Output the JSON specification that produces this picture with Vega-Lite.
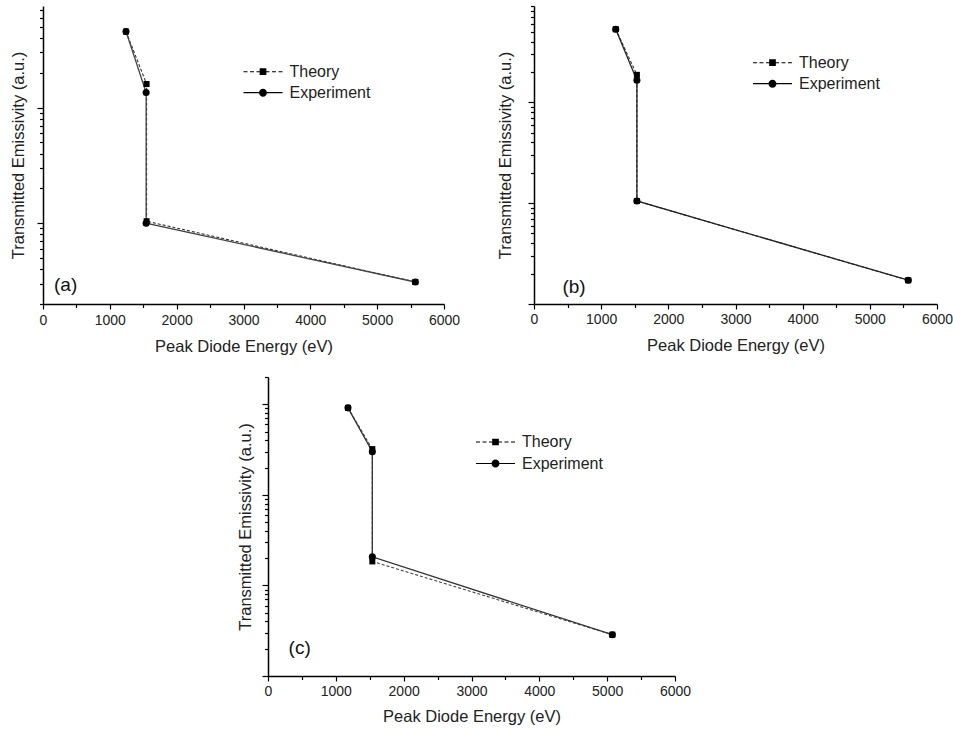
{
  "$schema": "https://vega.github.io/schema/vega-lite/v6.json",
  "padding": {"left": 10, "top": 5, "right": 0, "bottom": 5},
  "background": "white",
  "config": {
    "view": {"stroke": null},
    "font": "Liberation Sans",
    "axis": {
      "grid": false,
      "labelFont": "Liberation Sans",
      "titleFont": "Liberation Sans",
      "labelFontSize": 14,
      "titleFontSize": 16.5,
      "titleFontWeight": "normal",
      "labelColor": "#222",
      "titleColor": "#222",
      "domainColor": "#000",
      "domainWidth": 1.5,
      "tickColor": "#000",
      "tickWidth": 1.2
    },
    "legend": {
      "labelFont": "Liberation Sans",
      "labelFontSize": 16,
      "labelColor": "#222",
      "symbolStrokeColor": "#000",
      "symbolFillColor": "#000",
      "symbolStrokeWidth": 0.6
    }
  },
  "datasets": {
    "pts": [
      {"p": "a", "s": "Theory", "i": 1, "x": 1242, "y": 45.5},
      {"p": "a", "s": "Theory", "i": 2, "x": 1550, "y": 16.0},
      {"p": "a", "s": "Theory", "i": 3, "x": 1550, "y": 1.04},
      {"p": "a", "s": "Theory", "i": 4, "x": 5571, "y": 0.31},
      {"p": "a", "s": "Experiment", "i": 1, "x": 1242, "y": 45.5},
      {"p": "a", "s": "Experiment", "i": 2, "x": 1543, "y": 13.5},
      {"p": "a", "s": "Experiment", "i": 3, "x": 1543, "y": 1.0},
      {"p": "a", "s": "Experiment", "i": 4, "x": 5571, "y": 0.31},
      {"p": "a", "s": "label", "i": 0, "x": 165, "y": 0.259, "t": "(a)"},
      {"p": "b", "s": "Theory", "i": 1, "x": 1217, "y": 53},
      {"p": "b", "s": "Theory", "i": 2, "x": 1532, "y": 18.7},
      {"p": "b", "s": "Theory", "i": 3, "x": 1532, "y": 1.05},
      {"p": "b", "s": "Theory", "i": 4, "x": 5572, "y": 0.172},
      {"p": "b", "s": "Experiment", "i": 1, "x": 1217, "y": 53},
      {"p": "b", "s": "Experiment", "i": 2, "x": 1532, "y": 16.5},
      {"p": "b", "s": "Experiment", "i": 3, "x": 1532, "y": 1.05},
      {"p": "b", "s": "Experiment", "i": 4, "x": 5572, "y": 0.172},
      {"p": "b", "s": "label", "i": 0, "x": 423, "y": 0.129, "t": "(b)"},
      {"p": "c", "s": "Theory", "i": 1, "x": 1179, "y": 91.3},
      {"p": "c", "s": "Theory", "i": 2, "x": 1538, "y": 32},
      {"p": "c", "s": "Theory", "i": 3, "x": 1538, "y": 1.84},
      {"p": "c", "s": "Theory", "i": 4, "x": 5076, "y": 0.286},
      {"p": "c", "s": "Experiment", "i": 1, "x": 1179, "y": 91.3},
      {"p": "c", "s": "Experiment", "i": 2, "x": 1538, "y": 29.9},
      {"p": "c", "s": "Experiment", "i": 3, "x": 1538, "y": 2.07},
      {"p": "c", "s": "Experiment", "i": 4, "x": 5076, "y": 0.286},
      {"p": "c", "s": "label", "i": 0, "x": 304, "y": 0.174, "t": "(c)"}
    ]
  },
  "resolve": {"scale": {"shape": "independent"}, "legend": {"shape": "independent"}},
  "spacing": 21,
  "vconcat": [
    {
      "spacing": 37,
      "resolve": {"scale": {"shape": "independent"}, "legend": {"shape": "independent"}},
      "hconcat": [
        {
          "width": 401, "height": 298,
          "data": {"name": "pts"},
          "transform": [{"filter": "datum.p == 'a'"}],
          "encoding": {
            "x": {"field": "x", "type": "quantitative", "title": "Peak Diode Energy (eV)",
              "scale": {"domain": [0, 6000], "nice": false, "zero": false},
              "axis": {"values": [0,500,1000,1500,2000,2500,3000,3500,4000,4500,5000,5500,6000], "format": "d", "labelExpr": "datum.value % 1000 === 0 ? datum.label : ''", "labelFlush": false, "labelOverlap": false, "tickSize": {"condition": {"test": "datum.value % 1000 === 0", "value": 5}, "value": 3.5}, "labelPadding": 4, "titlePadding": 11}},
            "y": {"field": "y", "type": "quantitative", "title": "Transmitted Emissivity (a.u.)",
              "scale": {"type": "log", "domain": [0.2, 75.7], "nice": false},
              "axis": {"labels": false, "values": [0.2,0.3,0.4,0.5,0.6,0.7,0.8,0.9,1,2,3,4,5,6,7,8,9,10,20,30,40,50,60,70], "tickSize": {"condition": {"test": "datum.value == 0.1 || datum.value == 1 || datum.value == 10 || datum.value == 100", "value": 6}, "value": 3.5}, "titlePadding": 9.5}}
          },
          "layer": [
            {"transform": [{"filter": "datum.s == 'Theory'"}], "mark": {"type": "line", "color": "#333", "strokeWidth": 1.1, "strokeDash": [3, 2]}, "encoding": {"order": {"field": "i", "type": "quantitative"}}},
            {"transform": [{"filter": "datum.s == 'Experiment'"}], "mark": {"type": "line", "color": "#444", "strokeWidth": 1.3}, "encoding": {"order": {"field": "i", "type": "quantitative"}}},
            {"transform": [{"filter": "datum.s == 'Theory'"}], "mark": {"type": "square", "color": "#000", "size": 36, "opacity": 1}},
            {"transform": [{"filter": "datum.s == 'Experiment'"}], "mark": {"type": "circle", "color": "#000", "size": 50, "opacity": 1}},
            {"transform": [{"filter": "datum.s == 'label'"}], "mark": {"type": "text", "align": "left", "baseline": "alphabetic", "fontSize": 19, "font": "Liberation Sans", "color": "#111"}, "encoding": {"text": {"field": "t"}}},
            {"transform": [{"filter": "false"}], "mark": {"type": "point", "filled": true, "opacity": 1, "color": "#000"},
              "encoding": {"shape": {"field": "s", "type": "nominal",
                "scale": {"domain": ["Theory", "Experiment"], "range": ["M-3.9,-0.11H-3.1V0.11H-3.9ZM-2.6,-0.11H-1.8V0.11H-2.6ZM-1.3,-0.11H-0.67V0.11H-1.3ZM0.67,-0.11H1.3V0.11H0.67ZM1.8,-0.11H2.6V0.11H1.8ZM3.1,-0.11H3.9V0.11H3.1ZM-0.67,-0.67H0.67V0.67H-0.67Z", "M-3.9,-0.12H-0.8V0.12H-3.9ZM0.8,-0.12H3.9V0.12H0.8ZM-0.8,0A0.8,0.8,0,1,1,0.8,0A0.8,0.8,0,1,1,-0.8,0Z"]},
                "legend": {"orient": "none", "legendX": 212, "legendY": 57.7, "title": null, "symbolSize": 100, "labelOffset": 18.5, "rowPadding": 5, "padding": 0}}}}
          ]
        },
        {
          "width": 403, "height": 298,
          "data": {"name": "pts"},
          "transform": [{"filter": "datum.p == 'b'"}],
          "encoding": {
            "x": {"field": "x", "type": "quantitative", "title": "Peak Diode Energy (eV)",
              "scale": {"domain": [0, 6000], "nice": false, "zero": false},
              "axis": {"values": [0,500,1000,1500,2000,2500,3000,3500,4000,4500,5000,5500,6000], "format": "d", "labelExpr": "datum.value % 1000 === 0 ? datum.label : ''", "labelFlush": false, "labelOverlap": false, "tickSize": {"condition": {"test": "datum.value % 1000 === 0", "value": 5}, "value": 3.5}, "labelPadding": 3, "titlePadding": 11}},
            "y": {"field": "y", "type": "quantitative", "title": "Transmitted Emissivity (a.u.)",
              "scale": {"type": "log", "domain": [0.1, 90], "nice": false},
              "axis": {"labels": false, "values": [0.1,0.2,0.3,0.4,0.5,0.6,0.7,0.8,0.9,1,2,3,4,5,6,7,8,9,10,20,30,40,50,60,70,80,90], "tickSize": {"condition": {"test": "datum.value == 0.1 || datum.value == 1 || datum.value == 10 || datum.value == 100", "value": 6}, "value": 3.5}, "titlePadding": 13.5}}
          },
          "layer": [
            {"transform": [{"filter": "datum.s == 'Theory'"}], "mark": {"type": "line", "color": "#333", "strokeWidth": 1.1, "strokeDash": [3, 2]}, "encoding": {"order": {"field": "i", "type": "quantitative"}}},
            {"transform": [{"filter": "datum.s == 'Experiment'"}], "mark": {"type": "line", "color": "#222", "strokeWidth": 1.3}, "encoding": {"order": {"field": "i", "type": "quantitative"}}},
            {"transform": [{"filter": "datum.s == 'Theory'"}], "mark": {"type": "square", "color": "#000", "size": 36, "opacity": 1}},
            {"transform": [{"filter": "datum.s == 'Experiment'"}], "mark": {"type": "circle", "color": "#000", "size": 50, "opacity": 1}},
            {"transform": [{"filter": "datum.s == 'label'"}], "mark": {"type": "text", "align": "left", "baseline": "alphabetic", "fontSize": 19, "font": "Liberation Sans", "color": "#111"}, "encoding": {"text": {"field": "t"}}},
            {"transform": [{"filter": "false"}], "mark": {"type": "point", "filled": true, "opacity": 1, "color": "#000"},
              "encoding": {"shape": {"field": "s", "type": "nominal",
                "scale": {"domain": ["Theory", "Experiment"], "range": ["M-3.9,-0.11H-3.1V0.11H-3.9ZM-2.6,-0.11H-1.8V0.11H-2.6ZM-1.3,-0.11H-0.67V0.11H-1.3ZM0.67,-0.11H1.3V0.11H0.67ZM1.8,-0.11H2.6V0.11H1.8ZM3.1,-0.11H3.9V0.11H3.1ZM-0.67,-0.67H0.67V0.67H-0.67Z", "M-3.9,-0.12H-0.8V0.12H-3.9ZM0.8,-0.12H3.9V0.12H0.8ZM-0.8,0A0.8,0.8,0,1,1,0.8,0A0.8,0.8,0,1,1,-0.8,0Z"]},
                "legend": {"orient": "none", "legendX": 230.5, "legendY": 48.7, "title": null, "symbolSize": 100, "labelOffset": 18.5, "rowPadding": 5, "padding": 0}}}}
          ]
        }
      ]
    },
    {
      "spacing": 0,
      "resolve": {"scale": {"shape": "independent"}, "legend": {"shape": "independent"}},
      "hconcat": [
        {"width": 193.5, "height": 1, "data": {"values": []}, "mark": "point"},
        {
          "width": 407, "height": 299,
          "data": {"name": "pts"},
          "transform": [{"filter": "datum.p == 'c'"}],
          "encoding": {
            "x": {"field": "x", "type": "quantitative", "title": "Peak Diode Energy (eV)",
              "scale": {"domain": [0, 6000], "nice": false, "zero": false},
              "axis": {"values": [0,500,1000,1500,2000,2500,3000,3500,4000,4500,5000,5500,6000], "format": "d", "labelExpr": "datum.value % 1000 === 0 ? datum.label : ''", "labelFlush": false, "labelOverlap": false, "tickSize": {"condition": {"test": "datum.value % 1000 === 0", "value": 5}, "value": 3.5}, "labelPadding": 3, "titlePadding": 10}},
            "y": {"field": "y", "type": "quantitative", "title": "Transmitted Emissivity (a.u.)",
              "scale": {"type": "log", "domain": [0.1, 200], "nice": false},
              "axis": {"labels": false, "values": [0.1,0.2,0.3,0.4,0.5,0.6,0.7,0.8,0.9,1,2,3,4,5,6,7,8,9,10,20,30,40,50,60,70,80,90,100,200], "tickSize": {"condition": {"test": "datum.value == 0.1 || datum.value == 1 || datum.value == 10 || datum.value == 100", "value": 6}, "value": 3.5}, "titlePadding": 8}}
          },
          "layer": [
            {"transform": [{"filter": "datum.s == 'Theory'"}], "mark": {"type": "line", "color": "#444", "strokeWidth": 1.1, "strokeDash": [3, 2]}, "encoding": {"order": {"field": "i", "type": "quantitative"}}},
            {"transform": [{"filter": "datum.s == 'Experiment'"}], "mark": {"type": "line", "color": "#333", "strokeWidth": 1.3}, "encoding": {"order": {"field": "i", "type": "quantitative"}}},
            {"transform": [{"filter": "datum.s == 'Theory'"}], "mark": {"type": "square", "color": "#000", "size": 36, "opacity": 1}},
            {"transform": [{"filter": "datum.s == 'Experiment'"}], "mark": {"type": "circle", "color": "#000", "size": 50, "opacity": 1}},
            {"transform": [{"filter": "datum.s == 'label'"}], "mark": {"type": "text", "align": "left", "baseline": "alphabetic", "fontSize": 19, "font": "Liberation Sans", "color": "#111"}, "encoding": {"text": {"field": "t"}}},
            {"transform": [{"filter": "false"}], "mark": {"type": "point", "filled": true, "opacity": 1, "color": "#000"},
              "encoding": {"shape": {"field": "s", "type": "nominal",
                "scale": {"domain": ["Theory", "Experiment"], "range": ["M-3.9,-0.11H-3.1V0.11H-3.9ZM-2.6,-0.11H-1.8V0.11H-2.6ZM-1.3,-0.11H-0.67V0.11H-1.3ZM0.67,-0.11H1.3V0.11H0.67ZM1.8,-0.11H2.6V0.11H1.8ZM3.1,-0.11H3.9V0.11H3.1ZM-0.67,-0.67H0.67V0.67H-0.67Z", "M-3.9,-0.12H-0.8V0.12H-3.9ZM0.8,-0.12H3.9V0.12H0.8ZM-0.8,0A0.8,0.8,0,1,1,0.8,0A0.8,0.8,0,1,1,-0.8,0Z"]},
                "legend": {"orient": "none", "legendX": 219.5, "legendY": 57, "title": null, "symbolSize": 100, "labelOffset": 18.5, "rowPadding": 5.5, "padding": 0}}}}
          ]
        }
      ]
    }
  ]
}
